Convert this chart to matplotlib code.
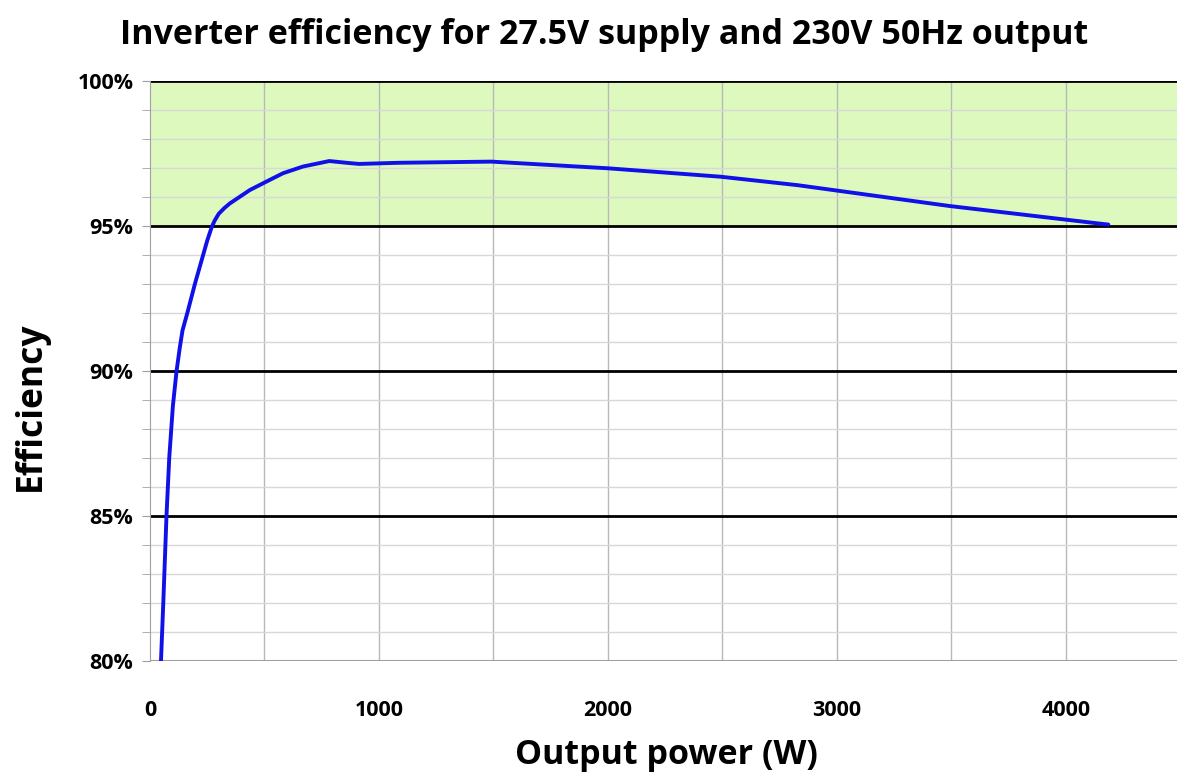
import matplotlib
matplotlib.use("Agg")
import matplotlib.pyplot as plt
from matplotlib.ticker import FixedLocator, MultipleLocator

power_w = [48, 51, 58, 72, 84, 100, 116, 130, 142, 163, 196, 232, 250, 269, 282, 300,
           325, 349, 436, 508, 581, 668, 783, 870, 913, 1087, 1491, 2000, 2491,
           2826, 3491, 4161, 4185]
efficiency_pct = [80.0, 80.6, 82.0, 85.0, 87.0, 88.8, 90.0, 90.8, 91.4, 92.0, 93.0,
                  94.0, 94.5, 94.95, 95.18, 95.42, 95.62, 95.78, 96.24, 96.53, 96.82,
                  97.05, 97.24, 97.17, 97.14, 97.18, 97.22, 96.99, 96.70, 96.41,
                  95.69, 95.07, 95.05]

y_ticks = [80, 85, 90, 95, 100]
y_tick_labels = ["80%", "85%", "90%", "95%", "100%"]
x_ticks = [0, 1000, 2000, 3000, 4000]
x_tick_labels = ["0", "1000", "2000", "3000", "4000"]

title = "Inverter efficiency for 27.5V supply and 230V 50Hz output"
xlabel = "Output power (W)"
ylabel = "Efficiency"

plt.rcParams['font.family'] = ['Open Sans', 'DejaVu Sans']

fig = plt.figure(figsize=(11.77, 7.76), dpi=100)
ax = fig.add_axes([150/1177, (776-661)/776, 1027/1177, 580/776])

ax.set_xlim(0, 4485)
ax.set_ylim(80, 100)

ax.axhspan(95, 100, color="#ddf9be", zorder=0)

# grid
for xv in range(500, 4500, 500):
    ax.axvline(xv, color="#b8b8b8", lw=1.0, zorder=1)
for yv in range(81, 100):
    if yv % 5 != 0:
        ax.axhline(yv, color="#d8d8d8", lw=1.0, zorder=1)
for yv in y_ticks:
    ax.axhline(yv, color="black", lw=2.0, zorder=2)
ax.axhline(80, color="#a0a0a0", lw=1.5, zorder=2)

ax.plot(power_w, efficiency_pct, color="#1010e8", lw=2.8, zorder=3,
        solid_capstyle="round", solid_joinstyle="round")

for s in ["top", "right"]:
    ax.spines[s].set_visible(False)
ax.spines["left"].set_color("#a0a0a0")
ax.spines["bottom"].set_visible(False)

ax.yaxis.set_major_locator(FixedLocator(y_ticks))
ax.set_yticklabels(y_tick_labels, fontsize=15.5, fontweight="bold")
ax.yaxis.set_minor_locator(MultipleLocator(1))
ax.tick_params(axis="y", which="both", length=6, color="#a0a0a0", pad=6)

ax.xaxis.set_major_locator(FixedLocator(x_ticks))
ax.set_xticklabels(x_tick_labels, fontsize=15.5, fontweight="bold")
ax.tick_params(axis="x", length=0, pad=28)

fig.text(0.513, 0.955, title, ha="center", va="center", fontsize=24.5, fontweight="bold")
fig.text(0.566, 0.027, xlabel, ha="center", va="center", fontsize=24.5, fontweight="bold")
fig.text(0.026, 0.477, ylabel, ha="center", va="center", fontsize=25.5, fontweight="bold", rotation=90)

fig.savefig("out.png", dpi=100, facecolor="white")
